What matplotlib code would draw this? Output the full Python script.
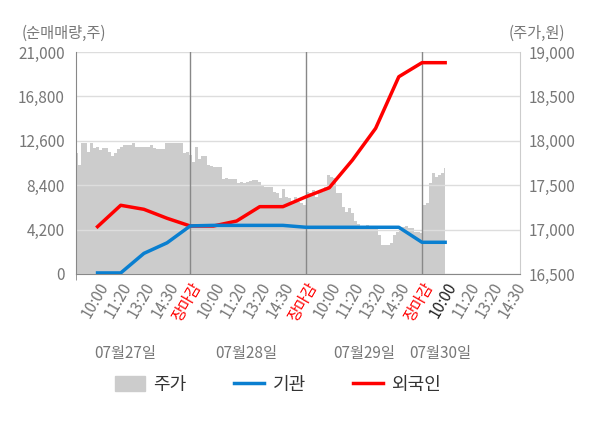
import numpy as np
import matplotlib
matplotlib.use("Agg")
import matplotlib.pyplot as plt
from matplotlib.lines import Line2D
from matplotlib.patches import Patch

plt.rcParams['font.family'] = ['Noto Sans CJK KR', 'DejaVu Sans']

# x slots: 4 trading days, 5 slots each (last day partial)
tick_labels = ['10:00', '11:20', '13:20', '14:30', '장마감',
               '10:00', '11:20', '13:20', '14:30', '장마감',
               '10:00', '11:20', '13:20', '14:30', '장마감',
               '10:00', '11:20', '13:20', '14:30']
dates = ['07월27일', '07월28일', '07월29일', '07월30일']

# cumulative net buying (shares), one value per slot up to 07/30 10:00
inst = [100, 100, 1950, 2950, 4550, 4600, 4600, 4600, 4600, 4420,
        4420, 4420, 4420, 4420, 3000, 3000]
foreign = [4480, 6500, 6120, 5270, 4540, 4540, 5010, 6370, 6370, 7310,
           8160, 10780, 13780, 18660, 19990, 19990]

# intraday price (won), evenly sampled from the first bar to 07/30 ~10:00
price = [17859, 17728, 17979, 17979, 17874, 17979, 17915, 17934, 17896, 17915,
         17915, 17877, 17832, 17859, 17904, 17934, 17953, 17953, 17953, 17972,
         17934, 17927, 17927, 17934, 17934, 17953, 17915, 17908, 17908, 17908,
         17975, 17975, 17979, 17979, 17979, 17979, 17859, 17874, 17840, 17765,
         17927, 17800, 17829, 17829, 17728, 17716, 17705, 17705, 17705, 17570,
         17578, 17570, 17570, 17570, 17521, 17540, 17521, 17540, 17551, 17559,
         17559, 17540, 17494, 17483, 17483, 17483, 17427, 17409, 17352, 17454,
         17371, 17352, 17322, 17371, 17315, 17296, 17277, 17427, 17409, 17446,
         17371, 17409, 17427, 17483, 17615, 17596, 17578, 17409, 17409, 17258,
         17202, 17240, 17183, 17100, 17060, 17040, 17014, 17052, 17033, 17033,
         17014, 16939, 16827, 16827, 16827, 16850, 16939, 16977, 17014, 17033,
         17040, 17014, 17014, 16977, 16977, 16962, 17277, 17296, 17521, 17641,
         17596, 17615, 17641, 17690]

close_slots = [4, 9, 14]
x_lo, x_hi = -0.93, 18.23

fig = plt.figure(figsize=(6, 4.28), dpi=100)
ax = fig.add_axes([76 / 600, 1 - 274 / 428, 444 / 600, 222 / 428])
ax2 = ax.twinx()
ax.set_zorder(ax2.get_zorder() + 1)
ax.patch.set_visible(False)
ax2.set_facecolor('#f4f4f4')

# price area on the right axis
px = np.linspace(-0.9, 15.0, len(price))
ax2.fill_between(px, price, 16500, step='mid', color='#cccccc', lw=0, zorder=1)
ax2.set_ylim(16500, 19000)
ax2.set_yticks(range(16500, 19001, 500))
ax2.set_yticklabels([f'{v:,}' for v in range(16500, 19001, 500)])

ax.set_ylim(0, 21000)
yt = np.arange(0, 21001, 4200)
ax.set_yticks(yt)
ax.set_yticklabels([f'{v:,}' for v in yt])
for v in yt:
    ax.axhline(v, color='#dddddd', lw=1, zorder=1)
for s in close_slots:
    ax.axvline(s, color='#888888', lw=1, zorder=1.5)

slots = np.arange(len(inst))
ax.plot(slots, foreign, color='#ff0000', lw=2.5, zorder=3)
ax.plot(slots, inst, color='#0a7fd0', lw=2.5, zorder=3)

ax.set_xlim(x_lo, x_hi)
ax.set_xticks(np.arange(len(tick_labels)))
ax.set_xticklabels(tick_labels, rotation=60, ha='right', va='top',
                   rotation_mode='anchor', fontsize=11)
for i, lab in enumerate(ax.get_xticklabels()):
    if tick_labels[i] == '장마감':
        lab.set_color('#ff0000')
    elif i == 15:
        lab.set_color('#222222')
    else:
        lab.set_color('#777777')
ax.tick_params(axis='x', length=0, pad=4)
ax.set_xticks([x_lo] + close_slots, minor=True)
ax.tick_params(axis='x', which='minor', length=4, color='#888888')

ax.tick_params(axis='y', length=0, labelsize=11, labelcolor='#777777', pad=8)
ax2.tick_params(axis='y', length=0, labelsize=11, labelcolor='#777777', pad=6)

for a in (ax, ax2):
    a.spines['top'].set_visible(False)
ax.spines['right'].set_visible(False)
ax.spines['left'].set_color('#888888')
ax.spines['bottom'].set_color('#888888')
ax2.spines['left'].set_visible(False)
ax2.spines['bottom'].set_visible(False)
ax2.spines['right'].set_color('#cccccc')

date_pos = [1.2, 6.4, 11.5, 14.8]
for d, xp in zip(dates, date_pos):
    ax.text(xp, -0.36, d, transform=ax.get_xaxis_transform(), ha='center',
            va='center', fontsize=11, color='#777777')

fig.text(22 / 600, 1 - 33 / 428, '(순매매량,주)', fontsize=11, color='#777777',
         ha='left', va='center')
fig.text(565 / 600, 1 - 33 / 428, '(주가,원)', fontsize=11, color='#777777',
         ha='right', va='center')

handles = [Patch(color='#cccccc'),
           Line2D([], [], color='#0a7fd0', lw=2.5),
           Line2D([], [], color='#ff0000', lw=2.5)]
fig.legend(handles, ['주가', '기관', '외국인'], loc='center',
           bbox_to_anchor=(278 / 600, 1 - 385 / 428), ncol=3, frameon=False,
           fontsize=13, handlelength=1.7, handleheight=0.9, handletextpad=0.45,
           columnspacing=2.6, labelcolor='#333333')

fig.savefig('out.png', dpi=100)
